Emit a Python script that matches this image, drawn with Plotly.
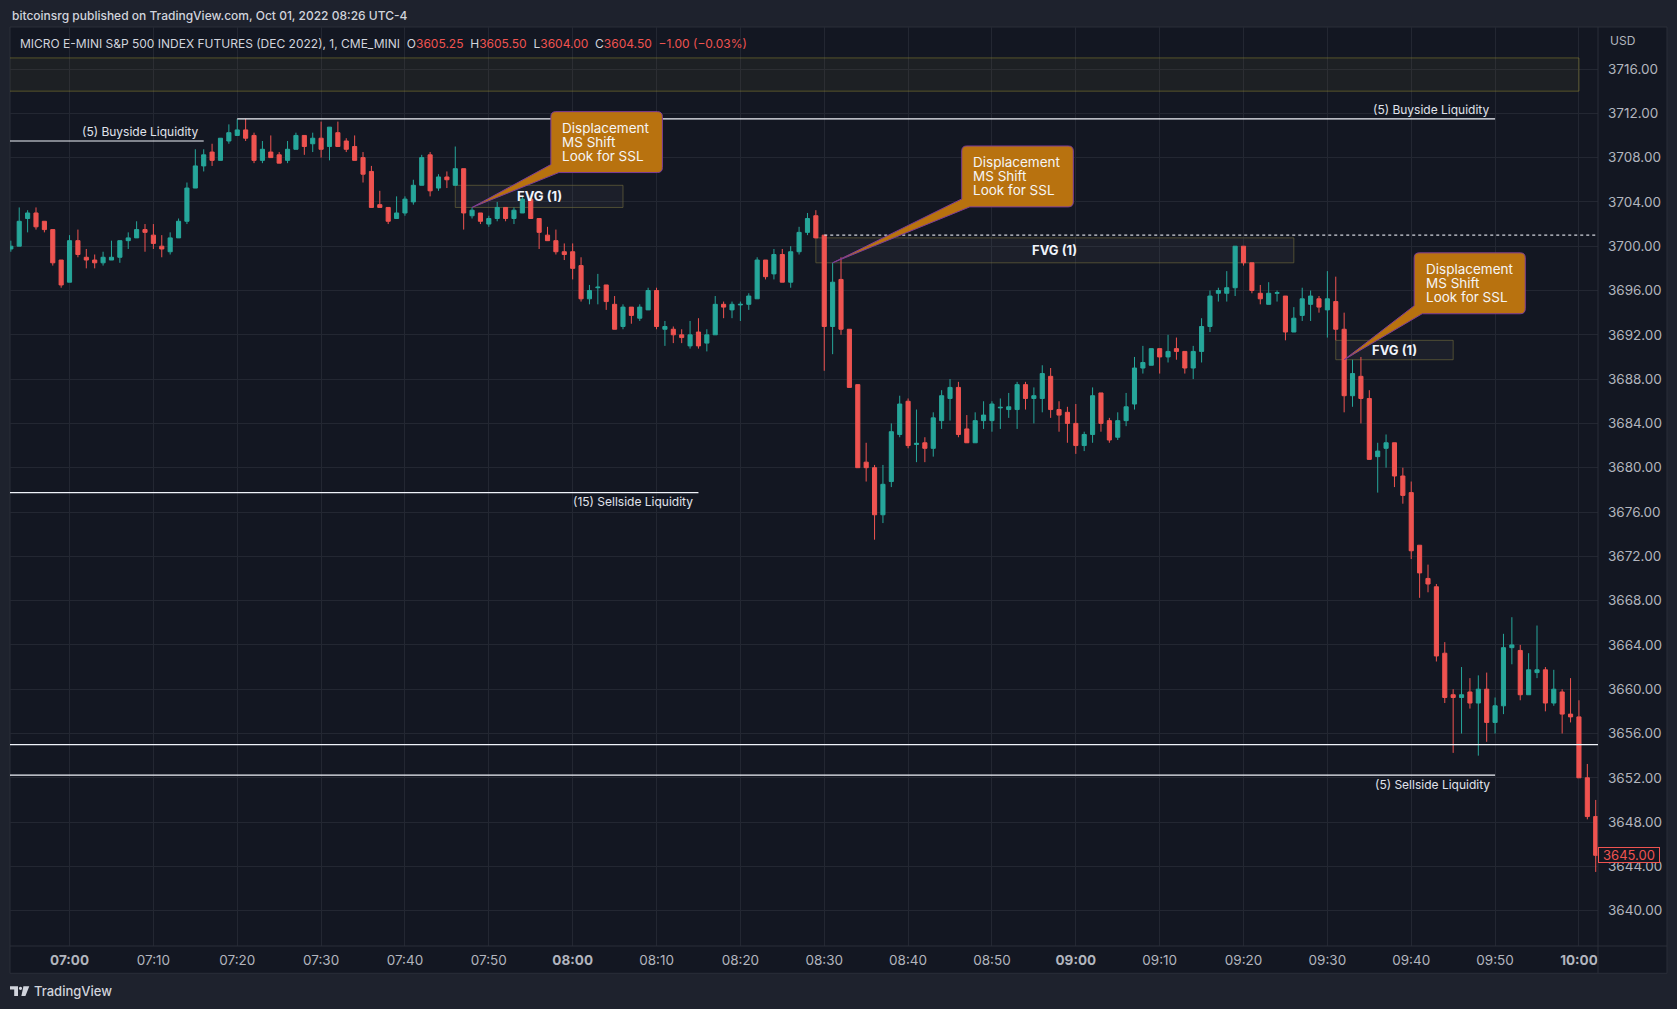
import pandas as pd
import plotly.graph_objects as go

# one-minute bars, 06:53 -> 10:02
TIMES = pd.date_range("2022-09-30 06:53", periods=190, freq="min")

OPEN = [
    3699.75, 3700.0, 3702.5, 3703.0, 3702.25, 3701.5, 3698.75, 3696.75, 3700.5, 3699.0,
    3698.75, 3698.5, 3698.75, 3699.0, 3700.5, 3700.75, 3701.5, 3701.0, 3700.0, 3699.5,
    3700.75, 3702.25, 3705.25, 3707.25, 3708.5, 3707.75, 3709.5, 3710.0, 3710.5, 3710.0,
    3707.75, 3708.5, 3708.25, 3707.75, 3708.75, 3710.0, 3709.25, 3709.75, 3709.0, 3710.25,
    3709.5, 3709.0, 3708.0, 3706.75, 3703.75, 3703.5, 3702.5, 3703.0, 3704.0, 3705.5,
    3708.25, 3705.25, 3706.25, 3705.5, 3707.0, 3702.75, 3703.0, 3702.0, 3702.5, 3703.5,
    3702.5, 3703.0, 3704.25, 3702.5, 3701.0, 3700.5, 3699.5, 3699.5, 3698.25, 3695.25,
    3696.25, 3696.5, 3694.75, 3692.75, 3694.5, 3693.5, 3694.25, 3696.0, 3692.5, 3692.5,
    3692.0, 3691.0, 3692.25, 3691.25, 3692.0, 3694.75, 3694.25, 3694.7, 3694.75, 3695.25,
    3698.75, 3697.5, 3699.25, 3696.75, 3699.5, 3701.25, 3702.75, 3701.0, 3692.75, 3697.0,
    3692.5, 3687.5, 3680.5, 3680.0, 3675.75, 3678.75, 3683.0, 3686.0, 3682.1, 3682.25,
    3681.75, 3684.25, 3686.25, 3687.25, 3683.5, 3682.25, 3684.25, 3684.25, 3685.4, 3685.25,
    3685.25, 3687.5, 3686.25, 3686.25, 3688.25, 3685.25, 3685.0, 3684.0, 3682.0, 3683.0,
    3686.75, 3684.25, 3682.75, 3684.25, 3685.75, 3689.0, 3689.25, 3690.75, 3690.0, 3690.75,
    3690.5, 3689.0, 3690.5, 3692.75, 3695.75, 3695.75, 3696.25, 3700.0, 3698.5, 3695.75,
    3694.75, 3695.75, 3695.5, 3692.25, 3693.75, 3694.75, 3695.25, 3694.25, 3695.0, 3692.5,
    3686.5, 3688.25, 3686.25, 3681.0, 3681.75, 3682.25, 3679.25, 3677.75, 3673.0, 3670.0,
    3669.25, 3663.25, 3659.5, 3659.25, 3659.75, 3658.75, 3660.0, 3657.0, 3658.5, 3663.75,
    3663.5, 3659.5, 3661.5, 3661.75, 3658.75, 3659.75, 3657.75, 3657.5, 3652.0, 3648.5,
]
HIGH = [
    3700.5, 3703.5, 3703.25, 3703.5, 3702.25, 3701.5, 3698.75, 3701.0, 3701.5, 3699.75,
    3699.25, 3699.5, 3700.5, 3700.5, 3701.25, 3702.25, 3702.0, 3702.0, 3701.0, 3701.25,
    3702.5, 3705.75, 3708.75, 3708.75, 3709.25, 3709.75, 3711.0, 3711.5, 3711.5, 3710.25,
    3709.5, 3710.0, 3708.5, 3709.5, 3710.25, 3710.0, 3710.25, 3711.25, 3710.75, 3711.25,
    3709.75, 3710.0, 3708.5, 3707.25, 3705.0, 3703.5, 3704.5, 3704.5, 3706.0, 3708.25,
    3708.5, 3706.5, 3706.75, 3709.0, 3707.0, 3703.5, 3703.0, 3702.75, 3704.0, 3703.5,
    3703.5, 3704.5, 3704.25, 3702.5, 3701.75, 3701.5, 3700.25, 3700.25, 3699.0, 3696.5,
    3697.5, 3696.5, 3695.5, 3694.75, 3694.5, 3694.75, 3696.25, 3696.25, 3693.25, 3692.75,
    3692.5, 3693.25, 3693.5, 3692.5, 3695.5, 3695.0, 3695.0, 3695.0, 3695.75, 3699.0,
    3698.75, 3699.75, 3699.75, 3700.0, 3701.75, 3703.0, 3703.25, 3701.0, 3698.5, 3699.0,
    3692.5, 3687.5, 3682.25, 3680.25, 3680.25, 3684.0, 3686.5, 3686.25, 3685.25, 3682.75,
    3685.0, 3687.0, 3688.0, 3687.75, 3684.75, 3685.0, 3686.0, 3686.0, 3686.25, 3686.75,
    3687.75, 3687.75, 3687.25, 3689.25, 3689.0, 3686.0, 3685.5, 3685.75, 3683.25, 3687.25,
    3686.75, 3684.5, 3685.0, 3686.75, 3690.0, 3691.0, 3690.75, 3690.75, 3692.0, 3691.75,
    3690.5, 3691.0, 3693.5, 3696.0, 3696.25, 3697.75, 3700.0, 3700.0, 3698.5, 3696.5,
    3696.75, 3696.0, 3695.5, 3694.5, 3696.25, 3696.0, 3695.5, 3697.75, 3697.25, 3694.0,
    3689.75, 3690.0, 3687.0, 3682.25, 3683.0, 3682.25, 3680.0, 3678.75, 3673.0, 3671.25,
    3669.5, 3664.25, 3660.0, 3662.0, 3661.0, 3661.25, 3661.5, 3659.25, 3665.0, 3666.5,
    3664.0, 3663.25, 3665.75, 3662.0, 3661.75, 3660.0, 3661.0, 3659.0, 3653.25, 3650.0,
]
LOW = [
    3699.5, 3700.0, 3701.25, 3701.5, 3701.25, 3698.25, 3696.25, 3696.75, 3699.0, 3698.0,
    3698.0, 3698.25, 3698.75, 3698.5, 3699.75, 3700.75, 3699.5, 3699.75, 3699.0, 3699.25,
    3700.75, 3702.0, 3705.25, 3706.75, 3707.25, 3707.75, 3709.25, 3710.0, 3709.5, 3707.5,
    3707.5, 3708.0, 3707.5, 3707.5, 3708.75, 3708.25, 3708.5, 3708.0, 3707.75, 3709.0,
    3708.5, 3707.75, 3705.75, 3703.5, 3703.5, 3702.0, 3702.5, 3702.75, 3703.75, 3705.5,
    3704.5, 3705.0, 3705.25, 3705.5, 3701.5, 3702.5, 3702.0, 3701.75, 3702.25, 3702.25,
    3702.0, 3703.0, 3702.5, 3699.75, 3700.5, 3699.25, 3698.75, 3697.0, 3695.0, 3694.75,
    3694.75, 3694.25, 3692.5, 3692.5, 3693.0, 3693.25, 3694.25, 3692.5, 3691.0, 3691.25,
    3691.25, 3690.75, 3690.75, 3690.5, 3692.0, 3693.5, 3693.5, 3693.25, 3694.25, 3695.25,
    3697.0, 3697.0, 3696.75, 3696.25, 3699.25, 3701.0, 3700.75, 3688.75, 3690.25, 3692.0,
    3687.25, 3680.0, 3678.75, 3673.5, 3675.0, 3678.25, 3682.75, 3681.75, 3680.5, 3680.5,
    3681.0, 3683.5, 3684.25, 3682.75, 3682.25, 3682.25, 3683.5, 3683.25, 3683.5, 3684.5,
    3683.5, 3685.25, 3684.0, 3685.0, 3684.5, 3683.25, 3682.25, 3681.25, 3681.5, 3682.25,
    3683.25, 3682.25, 3682.5, 3683.75, 3685.25, 3688.5, 3689.25, 3688.5, 3689.5, 3689.75,
    3688.5, 3688.0, 3689.5, 3692.25, 3695.0, 3695.0, 3695.5, 3698.25, 3695.75, 3694.75,
    3694.75, 3695.0, 3691.5, 3692.25, 3693.25, 3693.25, 3694.0, 3691.75, 3691.5, 3685.0,
    3685.5, 3684.0, 3680.75, 3677.75, 3680.0, 3678.25, 3676.75, 3671.75, 3668.25, 3668.75,
    3662.5, 3658.75, 3654.25, 3656.0, 3658.25, 3654.0, 3655.25, 3656.0, 3657.75, 3662.25,
    3659.0, 3659.5, 3661.0, 3658.0, 3658.5, 3656.0, 3657.0, 3652.0, 3648.25, 3643.5,
]
CLOSE = [
    3700.0, 3702.25, 3703.0, 3701.75, 3701.5, 3698.5, 3696.5, 3700.5, 3699.25, 3698.75,
    3698.5, 3699.0, 3699.0, 3700.5, 3700.75, 3701.5, 3701.25, 3700.25, 3699.75, 3700.75,
    3702.25, 3705.25, 3707.25, 3708.25, 3707.75, 3709.75, 3710.25, 3710.5, 3709.75, 3707.75,
    3708.75, 3708.0, 3707.5, 3708.75, 3710.0, 3709.0, 3709.75, 3708.75, 3710.75, 3709.0,
    3708.75, 3707.75, 3706.5, 3703.5, 3703.5, 3702.25, 3703.0, 3704.25, 3705.5, 3708.0,
    3705.0, 3706.25, 3706.0, 3707.0, 3703.0, 3703.25, 3702.25, 3702.5, 3703.5, 3702.5,
    3703.25, 3704.25, 3702.5, 3701.25, 3700.5, 3699.5, 3699.25, 3698.0, 3695.25, 3696.0,
    3696.3, 3695.0, 3692.5, 3694.5, 3693.75, 3694.5, 3696.0, 3692.75, 3692.75, 3692.0,
    3691.75, 3692.0, 3691.0, 3692.0, 3694.75, 3694.5, 3694.75, 3694.75, 3695.5, 3698.75,
    3697.25, 3699.25, 3696.75, 3699.5, 3701.25, 3702.5, 3700.75, 3692.75, 3696.75, 3692.5,
    3687.25, 3680.0, 3680.0, 3675.75, 3678.5, 3683.25, 3685.75, 3682.0, 3682.2, 3681.75,
    3684.5, 3686.5, 3687.25, 3683.0, 3682.25, 3684.25, 3684.75, 3685.75, 3685.45, 3685.5,
    3687.5, 3686.25, 3686.5, 3688.5, 3685.25, 3684.75, 3684.0, 3682.0, 3683.0, 3686.5,
    3684.0, 3682.5, 3684.25, 3685.5, 3689.0, 3689.5, 3690.75, 3690.0, 3690.5, 3690.5,
    3689.0, 3690.5, 3692.75, 3695.5, 3696.0, 3696.25, 3700.0, 3698.5, 3696.0, 3695.25,
    3695.75, 3695.8, 3692.25, 3693.5, 3695.25, 3695.5, 3694.5, 3695.25, 3692.5, 3686.5,
    3688.5, 3686.25, 3680.75, 3681.5, 3682.25, 3679.25, 3677.5, 3672.5, 3670.5, 3669.5,
    3663.0, 3659.25, 3659.25, 3659.5, 3658.75, 3660.0, 3657.0, 3658.5, 3663.75, 3664.0,
    3659.5, 3661.75, 3661.75, 3658.75, 3660.0, 3657.75, 3657.5, 3652.0, 3648.5, 3645.0,
]

PRICE_TICKS = list(range(3640, 3717, 4))
TIME_TICKS = pd.date_range("2022-09-30 07:00", "2022-09-30 10:00", freq="10min")

# drawings: (start, end, price, label)
LIQUIDITY = [
    ("06:40", "07:16", 3709.5, "(5) Buyside Liquidity", "above"),
    ("07:20", "09:50", 3711.5, "(5) Buyside Liquidity", "above"),
    ("06:40", "08:15", 3677.75, "(15) Sellside Liquidity", "below"),
    ("06:40", "10:10", 3655.0, "", "below"),
    ("06:40", "09:50", 3652.25, "(5) Sellside Liquidity", "below"),
]
FVG = [
    ("07:46", "08:06", 3703.5, 3705.5),
    ("08:29", "09:26", 3698.5, 3700.75),
    ("09:31", "09:45", 3689.75, 3691.5),
]
# callout box (left, right, bottom, top) and pointer tip (time, price)
CALLOUTS = [
    (57.4, 70.7, 3706.65, 3712.15, "07:48", 3703.5),
    (106.4, 119.7, 3703.55, 3709.05, "08:31", 3698.5),
    (160.35, 173.6, 3693.9, 3699.4, "09:32", 3689.75),
]
CALLOUT_LINES = ["Displacement", "MS Shift", "Look for SSL"]

W, H = 1677, 1009
ML, MR, MT, MB = 10, 79.3, 27, 63
PW = W - ML - MR
PH = H - MT - MB
PX_MIN = 8.384      # pixels per minute
PX_PT = 11.075      # pixels per point

BG = "#131722"
FRAME = "#1e222d"
BORDER = "#2a2e39"
GRID = "#232732"
TEXT = "#b2b5be"
UP = "#26a69a"
DOWN = "#ef5350"
ORANGE = "#b8720f"
VIOLET = "#7d3c98"
FONT = "Inter, Roboto, sans-serif"

T0 = pd.Timestamp("2022-09-30 07:00")


def minute(hhmm):
    return (pd.Timestamp("2022-09-30 " + hhmm) - T0).total_seconds() / 60


def px(x):
    return (x - ML) / PW


def py(y):
    return (H - MB - y) / PH


x = [(t - T0).total_seconds() / 60 for t in TIMES]

fig = go.Figure(
    go.Candlestick(
        x=x,
        open=OPEN,
        high=HIGH,
        low=LOW,
        close=CLOSE,
        increasing=dict(line=dict(color=UP, width=1), fillcolor=UP),
        decreasing=dict(line=dict(color=DOWN, width=1), fillcolor=DOWN),
        whiskerwidth=0,
        hoverinfo="skip",
        showlegend=False,
    )
)

shapes = []
annotations = []

# chart pane, axis separators
shapes.append(dict(type="rect", xref="paper", yref="paper", x0=px(10), x1=px(1666.7),
                   y0=py(973.3), y1=py(27), fillcolor=BG, line=dict(color=BORDER, width=1),
                   layer="below"))
shapes.append(dict(type="line", xref="paper", yref="paper", x0=px(10), x1=px(1666.7),
                   y0=py(946), y1=py(946), line=dict(color=BORDER, width=1)))
shapes.append(dict(type="line", xref="paper", yref="paper", x0=px(1597.7), x1=px(1597.7),
                   y0=py(27), y1=py(973.3), line=dict(color=BORDER, width=1)))

# olive zone at the top
shapes.append(dict(type="rect", x0=-12, x1=minute("10:00"), y0=3714.0, y1=3717.0,
                   fillcolor="rgba(150,140,60,0.08)", line=dict(color="rgba(150,140,50,0.5)", width=1),
                   layer="between"))

# fair value gaps
for t0, t1, lo, hi in FVG:
    shapes.append(dict(type="rect", x0=minute(t0), x1=minute(t1), y0=lo, y1=hi,
                       fillcolor="rgba(120,123,134,0.09)",
                       line=dict(color="rgba(110,105,60,0.65)", width=1), layer="between"))
    annotations.append(dict(x=(minute(t0) + minute(t1)) / 2, y=(lo + hi) / 2, text="<b>FVG (1)</b>",
                            showarrow=False, font=dict(size=13, color="#f0f3fa", family=FONT),
                            xanchor="center", yanchor="middle"))

# liquidity lines
for t0, t1, price, label, pos in LIQUIDITY:
    shapes.append(dict(type="line", x0=minute(t0), x1=minute(t1), y0=price, y1=price,
                       line=dict(color="#f0f3fa", width=1.2)))
    if label:
        annotations.append(dict(x=minute(t1), y=price, text=label, showarrow=False,
                                xanchor="right", yanchor="bottom" if pos == "above" else "top",
                                xshift=-3, yshift=0 if pos == "above" else 0.5,
                                font=dict(size=12, color="#e0e3eb", family=FONT)))

# dotted level from the 08:30 open
shapes.append(dict(type="line", x0=minute("08:30"), x1=200, y0=3701.0, y1=3701.0,
                   line=dict(color="#d1d4dc", width=1.3, dash="dot")))

# callouts
rx, ry = 5 / PX_MIN, 5 / PX_PT
ax, ay = 8 / PX_MIN, 8 / PX_PT
for x0, x1, y0, y1, tip_t, tip_p in CALLOUTS:
    tx = minute(tip_t)
    path = (
        f"M {tx},{tip_p} L {x0},{y0 + ay} L {x0},{y1 - ry} Q {x0},{y1} {x0 + rx},{y1} "
        f"L {x1 - rx},{y1} Q {x1},{y1} {x1},{y1 - ry} L {x1},{y0 + ry} Q {x1},{y0} {x1 - rx},{y0} "
        f"L {x0 + ax},{y0} Z"
    )
    shapes.append(dict(type="path", path=path, fillcolor=ORANGE, line=dict(color=VIOLET, width=1)))
    for i, line in enumerate(CALLOUT_LINES):
        annotations.append(dict(x=x0, y=y1, text=line, showarrow=False, xanchor="left",
                                yanchor="middle", xshift=9.6, yshift=-16.1 - 13.9 * i,
                                font=dict(size=13.5, color="#f5f5f5", family=FONT)))

# header
annotations.append(dict(xref="paper", yref="paper", x=px(10), y=py(15),
                        text="bitcoinsrg published on TradingView.com, Oct 01, 2022 08:26 UTC-4",
                        showarrow=False, xanchor="left", yanchor="middle",
                        font=dict(size=12, color="#d1d4dc", family=FONT, weight=500)))
sp = "\u00a0\u00a0"
red = lambda s: f"<span style='color:{DOWN}'>{s}</span>"
header = ("MICRO E-MINI S&P 500 INDEX FUTURES (DEC 2022), 1, CME_MINI" + sp +
          "O" + red("3605.25") + sp + "H" + red("3605.50") + sp + "L" + red("3604.00") + sp +
          "C" + red("3604.50") + sp + red("\u22121.00 (\u22120.03%)"))
annotations.append(dict(xref="paper", yref="paper", x=px(18), y=py(43), text=header,
                        showarrow=False, xanchor="left", yanchor="middle",
                        font=dict(size=12, color="#d1d4dc", family=FONT)))
annotations.append(dict(xref="paper", yref="paper", x=px(1608), y=py(40.7), text="USD",
                        showarrow=False, xanchor="left", yanchor="middle",
                        font=dict(size=12, color=TEXT, family=FONT)))

# last price tag
annotations.append(dict(xref="paper", yref="y", x=px(1597.7), y=CLOSE[-1],
                        text=f"{CLOSE[-1]:.2f}", showarrow=False, xanchor="left", yanchor="middle",
                        width=58, height=12, bgcolor=BG, bordercolor=DOWN, borderwidth=1, borderpad=1,
                        font=dict(size=13, color=DOWN, family=FONT)))


# footer logo + name
def pts(points):
    return "M " + " L ".join(f"{px(a)},{py(b)}" for a, b in points) + " Z"


shapes.append(dict(type="path", xref="paper", yref="paper", fillcolor="#d1d4dc", line=dict(width=0),
                   path=pts([(10, 986.3), (18, 986.3), (18, 996), (14.2, 996), (14.2, 989.6), (10, 989.6)])))
shapes.append(dict(type="circle", xref="paper", yref="paper", fillcolor="#d1d4dc", line=dict(width=0),
                   x0=px(18.9), x1=px(22.1), y0=py(989.9), y1=py(986.7)))
shapes.append(dict(type="path", xref="paper", yref="paper", fillcolor="#d1d4dc", line=dict(width=0),
                   path=pts([(23.4, 986.3), (29.3, 986.3), (25.4, 996), (21.4, 996)])))
annotations.append(dict(xref="paper", yref="paper", x=px(32), y=py(991), text="TradingView",
                        showarrow=False, xanchor="left", yanchor="middle",
                        font=dict(size=13, color="#d1d4dc", family=FONT, weight=500)))

tick_text = [f"<b>{t:%H:%M}</b>" if t.minute == 0 else f"{t:%H:%M}" for t in TIME_TICKS]

fig.update_layout(
    width=W,
    height=H,
    margin=dict(l=ML, r=MR, t=MT, b=MB, pad=0),
    paper_bgcolor=FRAME,
    plot_bgcolor=BG,
    font=dict(family=FONT, color=TEXT),
    shapes=shapes,
    annotations=annotations,
    xaxis=dict(
        range=[-7.1, -7.1 + PW / PX_MIN],
        tickvals=[(t - T0).total_seconds() / 60 for t in TIME_TICKS],
        ticktext=tick_text,
        showgrid=True,
        gridcolor=GRID,
        gridwidth=1,
        zeroline=False,
        showline=False,
        ticks="",
        ticklabelstandoff=4,
        tickfont=dict(size=13.5, color=TEXT, family=FONT),
        rangeslider=dict(visible=False),
        fixedrange=True,
    ),
    yaxis=dict(
        side="right",
        range=[3716 - (946 - 69) / PX_PT, 3716 + (69 - 27) / PX_PT],
        tickvals=PRICE_TICKS,
        ticktext=[f"{v:.2f}" for v in PRICE_TICKS],
        showgrid=True,
        gridcolor=GRID,
        gridwidth=1,
        zeroline=False,
        showline=False,
        ticks="",
        ticklabelstandoff=9,
        tickfont=dict(size=13.5, color=TEXT, family=FONT),
        fixedrange=True,
    ),
)

fig.write_html(
    "out.html",
    config={"displayModeBar": False},
    post_script="document.body.style.margin='0';document.body.style.overflow='hidden';",
)
